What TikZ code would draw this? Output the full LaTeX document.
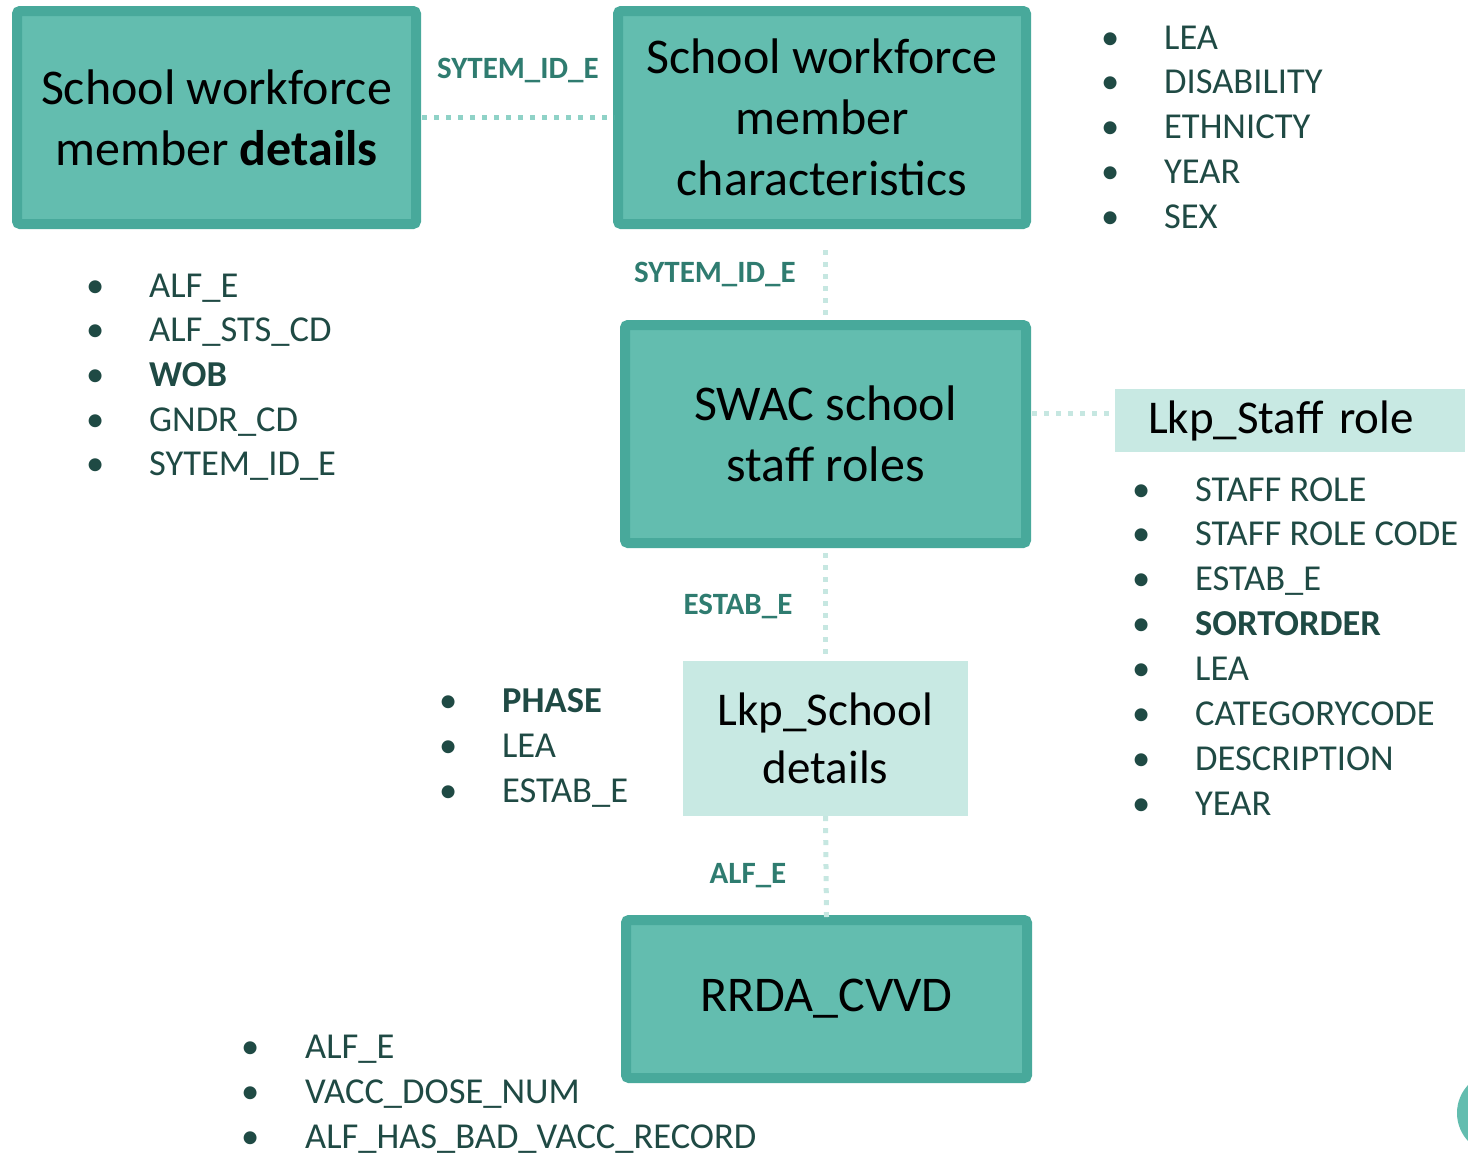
\documentclass[tikz,border=0pt]{standalone}
\usepackage{fontspec}
\setmainfont{Carlito}
\definecolor{boxfill}{HTML}{63BDAF}
\definecolor{boxborder}{HTML}{48A99B}
\definecolor{lightfill}{HTML}{C8E9E3}
\definecolor{dotdark}{HTML}{8FD2C7}
\definecolor{dotlight}{HTML}{C6E7E1}
\definecolor{labelcol}{HTML}{2F7C70}
\definecolor{listcol}{HTML}{1F4A44}
\begin{document}
\begin{tikzpicture}[x=1pt,y=-1pt,
  bigbox/.style={draw=boxborder, fill=boxfill, line width=10pt, rounded corners=3pt,
    align=center, inner sep=0pt, font=\fontsize{50}{61}\selectfont, text=black},
  lightbox/.style={fill=lightfill, align=center, inner sep=0pt,
    font=\fontsize{47}{58}\selectfont, text=black},
  dotA/.style={draw=dotdark, line width=5pt, dash pattern=on 5pt off 7pt},
  dotB/.style={draw=dotlight, line width=5pt, dash pattern=on 5pt off 7pt},
  keylabel/.style={anchor=base, inner sep=0pt, text=labelcol, font=\fontsize{31}{37}\selectfont\bfseries},
  item/.style={anchor=base west, inner sep=0pt, text=listcol, font=\fontsize{36.5}{44}\selectfont}]
\useasboundingbox (0,0) rectangle (1468,1152);

% boxes
\node[bigbox, minimum width=399pt, minimum height=213pt] (b1) at (216.5,117.5)
  {School workforce\\member \textbf{details}};
\node[bigbox, minimum width=408pt, minimum height=213pt] (b2) at (822,117.5)
  {School workforce\\member\\characteristics};
\node[bigbox, minimum width=401pt, minimum height=218pt] (b3) at (825.5,434)
  {SWAC school\\staff roles};
\node[lightbox, minimum width=285pt, minimum height=155pt] (b4) at (825.5,738.5)
  {Lkp\_School\\details};
\node[bigbox, minimum width=401pt, minimum height=158pt] (b5) at (826.5,999)
  {RRDA\_CVVD};
\node[lightbox, minimum width=350pt, minimum height=63pt, text width=284pt, inner xsep=33pt, align=left] (b6) at (1290,420.5)
  {Lkp\_Staff role};

% corner circle
\fill[boxfill] (1498,1113) circle[radius=41];

% connectors
\draw[dotA] ([xshift=1pt]b1.east) -- ([xshift=1pt]b2.west);
\draw[dotB] ([yshift=-21pt]b2.south -| b3.north) -- (b3.north);
\draw[dotB] ([yshift=-5pt]b3.south) -- (b4.north);
\draw[dotB] (b4.south) -- ([yshift=-2pt]b5.north);
\coordinate (sp) at ([yshift=7.5pt]b6.west);
\draw[dotB] ([xshift=1pt]sp -| b3.east) -- (sp);

% key labels
\node[keylabel] (k1) at (518,78) {SYTEM\_ID\_E};
\node[keylabel] (k2) at (715,282) {SYTEM\_ID\_E};
\node[keylabel] (k3) at (738,614) {ESTAB\_E};
\node[keylabel] (k4) at (748,883) {ALF\_E};

% lists
\foreach [count=\i] \t in {ALF\_E, ALF\_STS\_CD, \textbf{WOB}, GNDR\_CD, SYTEM\_ID\_E}
  \node[item] (la\i) at (86,{297+44.7*(\i-1)}) {\makebox[63pt][l]{•}\t};
\foreach [count=\i] \t in {LEA, DISABILITY, ETHNICTY, YEAR, SEX}
  \node[item] (lb\i) at (1101,{49+44.75*(\i-1)}) {\makebox[63pt][l]{•}\t};
\foreach [count=\i] \t in {STAFF ROLE, STAFF ROLE CODE, ESTAB\_E, \textbf{SORTORDER}, LEA, CATEGORYCODE, DESCRIPTION, YEAR}
  \node[item] (lc\i) at (1132,{501+44.86*(\i-1)}) {\makebox[63pt][l]{•}\t};
\foreach [count=\i] \t in {\textbf{PHASE}, LEA, ESTAB\_E}
  \node[item] (ld\i) at (439,{712+45*(\i-1)}) {\makebox[63pt][l]{•}\t};
\foreach [count=\i] \t in {ALF\_E, VACC\_DOSE\_NUM, ALF\_HAS\_BAD\_VACC\_RECORD}
  \node[item] (le\i) at (241,{1058+45*(\i-1)}) {\makebox[64pt][l]{•}\t};
\end{tikzpicture}
\end{document}
